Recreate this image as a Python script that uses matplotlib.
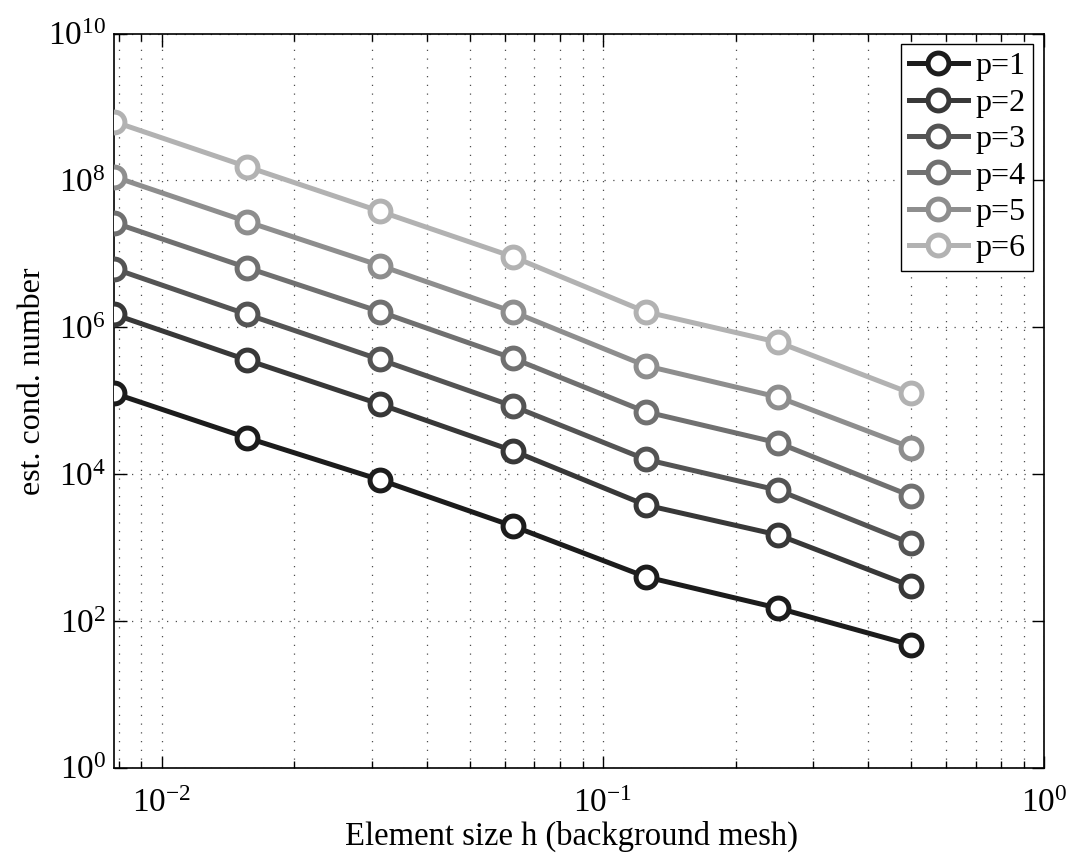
import numpy as np
import matplotlib
matplotlib.use("Agg")
import matplotlib.pyplot as plt
from matplotlib.ticker import LogLocator, NullLocator, FixedLocator

plt.rcParams['font.family'] = ['Liberation Serif', 'DejaVu Serif']
plt.rcParams['mathtext.fontset'] = 'custom'
plt.rcParams['mathtext.rm'] = 'Liberation Serif'
plt.rcParams['mathtext.it'] = 'Liberation Serif:italic'

# element size h of the background mesh
h = [1/128, 1/64, 1/32, 1/16, 1/8, 1/4, 1/2]

# estimated condition numbers, one list per polynomial degree
cond_p1 = [1.25e5, 3.1e4, 8.3e3, 1.95e3, 397, 148, 46.7]
cond_p2 = [1.49e6, 3.56e5, 8.9e4, 2.07e4, 3.77e3, 1.47e3, 297]
cond_p3 = [6.25e6, 1.49e6, 3.62e5, 8.4e4, 1.58e4, 5.98e3, 1.13e3]
cond_p4 = [2.64e7, 6.44e6, 1.62e6, 3.76e5, 7.03e4, 2.64e4, 5.0e3]
cond_p5 = [1.12e8, 2.73e7, 6.9e6, 1.62e6, 2.98e5, 1.11e5, 2.28e4]
cond_p6 = [6.28e8, 1.53e8, 3.78e7, 9.1e6, 1.62e6, 6.2e5, 1.25e5]

labels = ['p=1', 'p=2', 'p=3', 'p=4', 'p=5', 'p=6']
series = [cond_p1, cond_p2, cond_p3, cond_p4, cond_p5, cond_p6]
greys = ['#1c1c1c', '#383838', '#545454', '#707070', '#8e8e8e', '#b2b2b2']

fig = plt.figure(figsize=(10.75, 8.59), dpi=100)
ax = fig.add_axes([0.1063, 0.1065, 0.8649, 0.8545])

for ys, lab, c in zip(series, labels, greys):
    ax.loglog(h, ys, '-o', color=c, lw=3.6, ms=15, mew=3.6,
              mfc='white', mec=c, label=lab, zorder=3)

ax.set_xlim(1/128, 1)
ax.set_ylim(1, 1e10)

ax.xaxis.set_major_locator(LogLocator(base=10))
ax.xaxis.set_minor_locator(LogLocator(base=10, subs=np.arange(2, 10)))
ax.yaxis.set_major_locator(FixedLocator([1e0, 1e2, 1e4, 1e6, 1e8, 1e10]))
ax.yaxis.set_minor_locator(NullLocator())

dots = (0, (1, 6))
ax.grid(True, which='major', ls=dots, color='0.3', lw=0.9)
ax.grid(True, which='minor', axis='x', ls=dots, color='0.3', lw=0.9)

ax.tick_params(which='both', direction='in', top=True, right=True,
               labelsize=24, width=1.0)
ax.tick_params(which='major', length=9)
ax.tick_params(which='minor', length=5)
ax.tick_params(axis='y', which='major', pad=6)
ax.tick_params(axis='x', which='major', pad=15)
for s in ax.spines.values():
    s.set_linewidth(1.2)

ax.set_xlabel('Element size h (background mesh)', fontsize=23.5)
ax.set_ylabel('est. cond. number', fontsize=23)
ax.xaxis.set_label_coords(0.4923, -0.072)
ax.yaxis.set_label_coords(-0.072, 0.5266)

leg = ax.legend(loc='upper right', fontsize=23, fancybox=False,
                edgecolor='black', framealpha=1, handlelength=1.87,
                labelspacing=0.22, borderaxespad=0.33, handletextpad=0.22,
                borderpad=0.25)
leg.get_frame().set_linewidth(1.0)

fig.savefig('out.png', dpi=100)
